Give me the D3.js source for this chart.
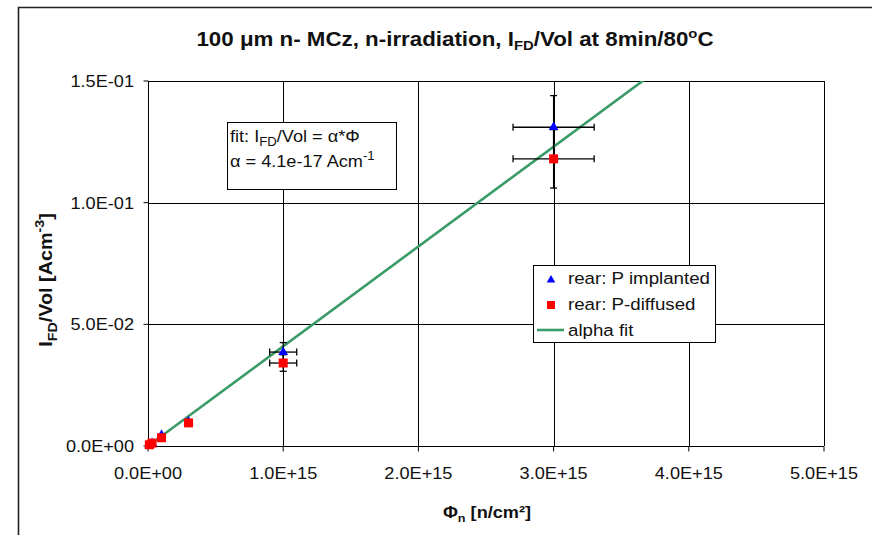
<!DOCTYPE html>
<html>
<head>
<meta charset="utf-8">
<script src="https://cdn.jsdelivr.net/npm/d3@7"></script>
<style>
  body { margin: 0; background: #fff; }
  svg { font-family: "Liberation Sans", Arial, sans-serif; }
</style>
</head>
<body>
<div class="container"></div>
<script>
// data
const fluence = [1e13, 3e13, 1e14, 3e14, 1e15, 3e15];
const implanted = [0.0005, 0.0012, 0.0045, 0.0100, 0.0386, 0.131];
const diffused = [0.0005, 0.0012, 0.0034, 0.0095, 0.0341, 0.118];
const fluenceErr = [0, 0, 0, 0, 1e14, 3e14];
const implantedErr = [0, 0, 0, 0, 0.0039, 0.013];
const diffusedErr = [0, 0, 0, 0, 0.0034, 0.012];
const alpha = 4.1e-17;

const xTicks = [0, 1e15, 2e15, 3e15, 4e15, 5e15];
const xTickLabels = ['0.0E+00', '1.0E+15', '2.0E+15', '3.0E+15', '4.0E+15', '5.0E+15'];
const yTicks = [0, 0.05, 0.1, 0.15];
const yTickLabels = ['0.0E+00', '5.0E-02', '1.0E-01', '1.5E-01'];
const legendLabels = ['rear: P implanted', 'rear: P-diffused', 'alpha fit'];

const W = 872, H = 535;
const SX = 1.1; // glyphs in the picture are a bit wider than Liberation Sans
const GREEN = '#3a9b68';

const svg = d3.select('.container')
    .append('svg')
    .attr('width', W)
    .attr('height', H);

// text placed at (px,py), stretched sideways
function label(px, py, size, anchor, rot) {
    const g = svg.append('g')
        .attr('transform', `translate(${px},${py})` + (rot ? ` rotate(${rot})` : '') + ` scale(${SX},1)`);
    return g.append('text')
        .attr('text-anchor', anchor || 'start')
        .attr('font-size', size)
        .attr('fill', '#111');
}

// outer frame (only left and top visible)
svg.append('path')
    .attr('d', 'M18.5,535 L18.5,7.5 L872,7.5')
    .attr('fill', 'none')
    .attr('stroke', '#222')
    .attr('stroke-width', 1.6);

const x = d3.scaleLinear().domain([0, 5e15]).range([148, 824]);
const y = d3.scaleLinear().domain([0, 0.15]).range([446, 81]);

//gridlines
const grid = svg.append('g').attr('stroke', '#000').attr('stroke-width', 1);
xTicks.forEach(t => {
    grid.append('line')
        .attr('x1', Math.round(x(t)) + .5).attr('x2', Math.round(x(t)) + .5)
        .attr('y1', y(0.15)).attr('y2', y(0));
});
yTicks.forEach(t => {
    grid.append('line')
        .attr('x1', x(0)).attr('x2', x(5e15))
        .attr('y1', Math.round(y(t)) + .5).attr('y2', Math.round(y(t)) + .5);
});

// axes: tick marks from d3, labels stretched by hand
const xAxis = d3.axisBottom(x).tickValues(xTicks).tickFormat('').tickSize(5);
const yAxis = d3.axisLeft(y).tickValues(yTicks).tickFormat('').tickSize(5);
const gx = svg.append('g').attr('transform', `translate(-0.5,${Math.round(y(0)) + .5})`).call(xAxis);
const gy = svg.append('g').attr('transform', `translate(${Math.round(x(0)) + .5},-0.5)`).call(yAxis);
[gx, gy].forEach(g => {
    g.select('.domain').remove();
    g.selectAll('line').attr('stroke', '#000');
    g.selectAll('text').remove();
});
xTicks.forEach((t, i) => label(x(t), 479, 16.5, 'middle').text(xTickLabels[i]));
yTicks.forEach((t, i) => label(134, y(t) + 6, 16.5, 'end').text(yTickLabels[i]));

// clip to plot area
svg.append('clipPath').attr('id', 'plot')
    .append('rect').attr('x', x(0)).attr('y', y(0.15))
    .attr('width', x(5e15) - x(0)).attr('height', y(0) - y(0.15));

// fit line
const fitX = [0, 0.16 / alpha];
svg.append('path')
    .datum(fitX)
    .attr('clip-path', 'url(#plot)')
    .attr('d', d3.line().x(d => x(d)).y(d => y(alpha * d)))
    .attr('stroke', GREEN)
    .attr('stroke-width', 2.6)
    .attr('fill', 'none');

// error bars
function errorBars(vals, errs) {
    const g = svg.append('g').attr('stroke', '#000').attr('stroke-width', 1.3);
    fluence.forEach((f, i) => {
        if (!errs[i]) return;
        const v = vals[i];
        const cx = x(f), cy = y(v);
        const x0 = x(f - fluenceErr[i]), x1 = x(f + fluenceErr[i]);
        const y0 = y(v - errs[i]), y1 = y(v + errs[i]);
        g.append('line').attr('x1', x0).attr('x2', x1).attr('y1', cy).attr('y2', cy);
        g.append('line').attr('x1', x0).attr('x2', x0).attr('y1', cy - 3.5).attr('y2', cy + 3.5);
        g.append('line').attr('x1', x1).attr('x2', x1).attr('y1', cy - 3.5).attr('y2', cy + 3.5);
        g.append('line').attr('x1', cx).attr('x2', cx).attr('y1', y0).attr('y2', y1);
        g.append('line').attr('x1', cx - 3.5).attr('x2', cx + 3.5).attr('y1', y0).attr('y2', y0);
        g.append('line').attr('x1', cx - 3.5).attr('x2', cx + 3.5).attr('y1', y1).attr('y2', y1);
    });
}
errorBars(implanted, implantedErr);
errorBars(diffused, diffusedErr);

const tri = d3.symbol().type(d3.symbolTriangle).size(42);
svg.append('g').selectAll('path')
    .data(fluence)
    .join('path')
    .attr('transform', (d, i) => `translate(${x(d)},${y(implanted[i])})`)
    .attr('d', tri)
    .attr('fill', '#0000ff');

svg.append('g').selectAll('rect')
    .data(fluence)
    .join('rect')
    .attr('x', d => x(d) - 4.5)
    .attr('y', (d, i) => y(diffused[i]) - 4.5)
    .attr('width', 9).attr('height', 9)
    .attr('fill', '#ff0000');

// title
const title = label(455, 46, 20.3, 'middle').attr('font-weight', 'bold');
title.append('tspan').text('100 μm n- MCz, n-irradiation, I');
title.append('tspan').attr('font-size', 13.5).attr('dy', 4).text('FD');
title.append('tspan').attr('dy', -4).text('/Vol at 8min/80');
title.append('tspan').attr('font-size', 13.5).attr('dy', -8).text('o');
title.append('tspan').attr('dy', 8).text('C');

// y label
const ylab = label(52, 280, 18, 'middle', -90).attr('font-weight', 'bold');
ylab.append('tspan').text('I');
ylab.append('tspan').attr('font-size', 13).attr('dy', 5).text('FD');
ylab.append('tspan').attr('dy', -5).text('/Vol [Acm');
ylab.append('tspan').attr('font-size', 13).attr('dy', -8).text('-3');
ylab.append('tspan').attr('dy', 8).text(']');

// x label
const xlab = label(487, 518, 16.5, 'middle').attr('font-weight', 'bold');
xlab.append('tspan').text('Φ');
xlab.append('tspan').attr('font-size', 11.5).attr('dy', 4).text('n');
xlab.append('tspan').attr('dy', -4).text(' [n/cm²]');

// fit annotation box
svg.append('rect')
    .attr('x', 227.5).attr('y', 122.5).attr('width', 169).attr('height', 67)
    .attr('fill', '#fff').attr('stroke', '#000').attr('stroke-width', 1);
const a1 = label(230, 142, 16.5);
a1.append('tspan').text('fit: I');
a1.append('tspan').attr('font-size', 12).attr('dy', 4).text('FD');
a1.append('tspan').attr('dy', -4).text('/Vol = α*Φ');
const a2 = label(230, 167, 16.5);
a2.append('tspan').text('α = 4.1e-17 Acm');
a2.append('tspan').attr('font-size', 12).attr('dy', -7).text('-1');

// legend
const leg = svg.append('g');
leg.append('rect')
    .attr('x', 533.5).attr('y', 265.5).attr('width', 182).attr('height', 77)
    .attr('fill', '#fff').attr('stroke', '#000').attr('stroke-width', 1);
leg.append('path').attr('transform', 'translate(551,280)')
    .attr('d', d3.symbol().type(d3.symbolTriangle).size(32)).attr('fill', '#0000ff');
leg.append('rect').attr('x', 547).attr('y', 301).attr('width', 8).attr('height', 8).attr('fill', '#ff0000');
leg.append('line').attr('x1', 537).attr('x2', 564).attr('y1', 330).attr('y2', 330)
    .attr('stroke', GREEN).attr('stroke-width', 2.6);
legendLabels.forEach((t, i) => label(568, 284 + i * 26, 17).text(t));
</script>
</body>
</html>
